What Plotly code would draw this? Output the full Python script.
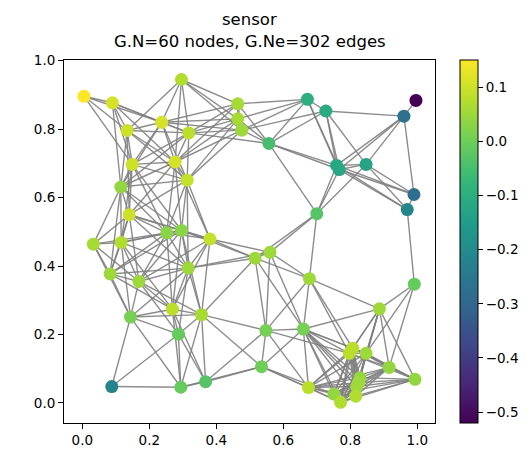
import plotly.graph_objects as go

# node coordinates
node_x = [0.005, 0.090, 0.296, 0.237, 0.134, 0.318, 0.149, 0.277, 0.313, 0.115,
          0.140, 0.252, 0.296, 0.033, 0.116, 0.381, 0.464, 0.464, 0.476, 0.557,
          0.672, 0.700, 0.727, 0.996, 0.960, 0.759, 0.767, 0.847, 0.990, 0.970,
          0.083, 0.169, 0.316, 0.269, 0.144, 0.287, 0.088, 0.294, 0.516, 0.560,
          0.678, 0.356, 0.548, 0.660, 0.535, 0.368, 0.675, 0.991, 0.887, 0.807,
          0.797, 0.847, 0.916, 0.993, 0.829, 0.819, 0.816, 0.751, 0.771, 0.825]
node_y = [0.896, 0.877, 0.945, 0.820, 0.796, 0.789, 0.697, 0.704, 0.651, 0.631,
          0.550, 0.497, 0.504, 0.464, 0.469, 0.479, 0.874, 0.830, 0.797, 0.758,
          0.887, 0.553, 0.853, 0.884, 0.838, 0.694, 0.682, 0.697, 0.609, 0.565,
          0.377, 0.355, 0.394, 0.274, 0.251, 0.201, 0.048, 0.046, 0.423, 0.440,
          0.363, 0.258, 0.212, 0.216, 0.106, 0.062, 0.045, 0.347, 0.275, 0.160,
          0.145, 0.145, 0.104, 0.069, 0.074, 0.048, 0.020, 0.026, 0.002, 0.060]

# signal value on each node (colour)
node_value = [0.15, 0.11, 0.07, 0.11, 0.10, 0.08, 0.10, 0.11, 0.09, 0.04,
              0.10, 0.03, 0.03, 0.06, 0.07, 0.09, 0.06, 0.06, 0.05, -0.05,
              -0.10, -0.03, -0.11, -0.52, -0.27, -0.12, -0.12, -0.13, -0.28, -0.21,
              0.05, 0.05, 0.05, 0.08, 0.01, -0.01, -0.22, -0.01, 0.05, 0.05,
              0.05, 0.06, 0.01, 0.01, 0.00, -0.03, 0.08, -0.01, 0.05, 0.08,
              0.08, 0.05, 0.04, 0.04, 0.04, 0.05, 0.07, 0.04, 0.07, 0.05]

# adjacency (neighbours with higher index)
neighbours = {
    0: [1, 3, 4, 6],
    1: [3, 4, 5, 6, 7, 9],
    2: [3, 4, 5, 7, 16, 17, 18],
    3: [4, 5, 6, 7, 8, 9, 16, 17, 18],
    4: [5, 6, 7, 8, 9, 10],
    5: [6, 7, 8, 9, 16, 17, 18, 19],
    6: [7, 8, 9, 10, 11, 12, 14],
    7: [8, 9, 10, 11, 12, 15, 16, 17, 18],
    8: [9, 10, 11, 12, 15, 17, 18, 32],
    9: [10, 11, 12, 13, 14, 30],
    10: [11, 12, 13, 14, 15, 30, 31, 32],
    11: [12, 13, 14, 15, 30, 31, 32, 33],
    12: [14, 15, 30, 31, 32, 33, 38, 41],
    13: [14, 30, 31, 34],
    14: [30, 31, 32, 33, 34],
    15: [31, 32, 33, 38, 39, 41],
    16: [17, 18, 19, 20],
    17: [18, 19, 20],
    18: [19, 20, 22],
    19: [20, 21, 22, 25, 26],
    20: [22, 25, 26],
    21: [25, 26, 27, 38, 39, 40],
    22: [24, 25, 26, 27],
    23: [24],
    24: [25, 26, 27, 28],
    25: [26, 27, 28, 29],
    26: [27, 28, 29],
    27: [28, 29],
    28: [29],
    29: [47],
    30: [31, 32, 33, 34],
    31: [32, 33, 34, 35, 41],
    32: [33, 34, 35, 38, 39, 41],
    33: [34, 35, 37, 41, 45],
    34: [35, 36, 37, 41],
    35: [36, 37, 41, 45],
    36: [37],
    37: [41, 44, 45],
    38: [39, 40, 41, 42, 43],
    39: [40, 42, 43],
    40: [42, 43, 48, 49, 50],
    41: [42, 44, 45],
    42: [43, 44, 45, 46, 50],
    43: [44, 46, 48, 49, 50, 51, 54, 55, 56, 57, 58, 59],
    44: [45, 46, 57, 58],
    46: [49, 50, 51, 52, 54, 55, 56, 57, 58, 59],
    47: [48, 51, 52],
    48: [49, 50, 51, 52, 53, 54, 55, 59],
    49: [50, 51, 52, 53, 54, 55, 56, 57, 58, 59],
    50: [51, 52, 53, 54, 55, 56, 57, 58, 59],
    51: [52, 53, 54, 55, 56, 57, 58, 59],
    52: [53, 54, 55, 56, 57, 58, 59],
    53: [54, 55, 56, 57, 58, 59],
    54: [55, 56, 57, 58, 59],
    55: [56, 57, 58, 59],
    56: [57, 58, 59],
    57: [58, 59],
    58: [59],
}

x_ticks = [0.0, 0.2, 0.4, 0.6, 0.8, 1.0]
y_ticks = [0.0, 0.2, 0.4, 0.6, 0.8, 1.0]
cbar_ticks = [0.1, 0.0, -0.1, -0.2, -0.3, -0.4, -0.5]

title_1 = "sensor"
title_2 = "G.N=60 nodes, G.Ne=302 edges"

# build edge segments
ex, ey = [], []
for i, js in neighbours.items():
    for j in js:
        ex += [node_x[i], node_x[j], None]
        ey += [node_y[i], node_y[j], None]

FONT = "DejaVu Sans"

fig = go.Figure()
fig.add_trace(go.Scatter(x=ex, y=ey, mode="lines",
                         line=dict(color="rgba(128,128,128,0.9)", width=1.4),
                         hoverinfo="skip", showlegend=False))
fig.add_trace(go.Scatter(
    x=node_x, y=node_y, mode="markers", showlegend=False,
    marker=dict(size=13, color=node_value, colorscale="Viridis",
                line=dict(width=0),
                colorbar=dict(
                    x=(460 - 64) / 371, xanchor="left", xref="paper",
                    y=0.5, yanchor="middle", len=1.0, lenmode="fraction",
                    thickness=18, thicknessmode="pixels",
                    xpad=0, ypad=0,
                    outlinewidth=1, outlinecolor="black",
                    ticks="outside", ticklen=5, tickwidth=1, tickcolor="black",
                    tickvals=cbar_ticks,
                    ticktext=[f"{v:.1f}".replace("-", "\u2212") for v in cbar_ticks],
                    tickfont=dict(family=FONT, size=13.5, color="black"),
                ))))

axis_common = dict(showline=True, mirror=True, linecolor="black", linewidth=1,
                   ticks="outside", ticklen=5, tickwidth=1, tickcolor="black",
                   showgrid=False, zeroline=False,
                   tickfont=dict(family=FONT, size=13.5, color="black"))

fig.update_layout(
    width=530, height=454,
    margin=dict(l=64, r=95, t=60, b=31, autoexpand=False),
    plot_bgcolor="white", paper_bgcolor="white",
    xaxis=dict(range=[-0.0546, 1.0528], tickvals=x_ticks,
               ticktext=[f"{v:.1f}" for v in x_ticks], **axis_common),
    yaxis=dict(range=[-0.0585, 1.002], tickvals=y_ticks,
               ticktext=[f"{v:.1f}" for v in y_ticks], **axis_common),
)
fig.add_annotation(text=title_1, x=0.5, xref="paper", y=1 + (60 - 19) / 363, yref="paper",
                   showarrow=False, xanchor="center", yanchor="middle",
                   font=dict(family=FONT, size=16.5, color="black"))
fig.add_annotation(text=title_2, x=0.5, xref="paper", y=1 + (60 - 42) / 363, yref="paper",
                   showarrow=False, xanchor="center", yanchor="middle",
                   font=dict(family=FONT, size=16.5, color="black"))

fig.write_html("out.html", config={"displayModeBar": False},
               post_script="document.body.style.margin='0';document.body.style.overflow='hidden';")
